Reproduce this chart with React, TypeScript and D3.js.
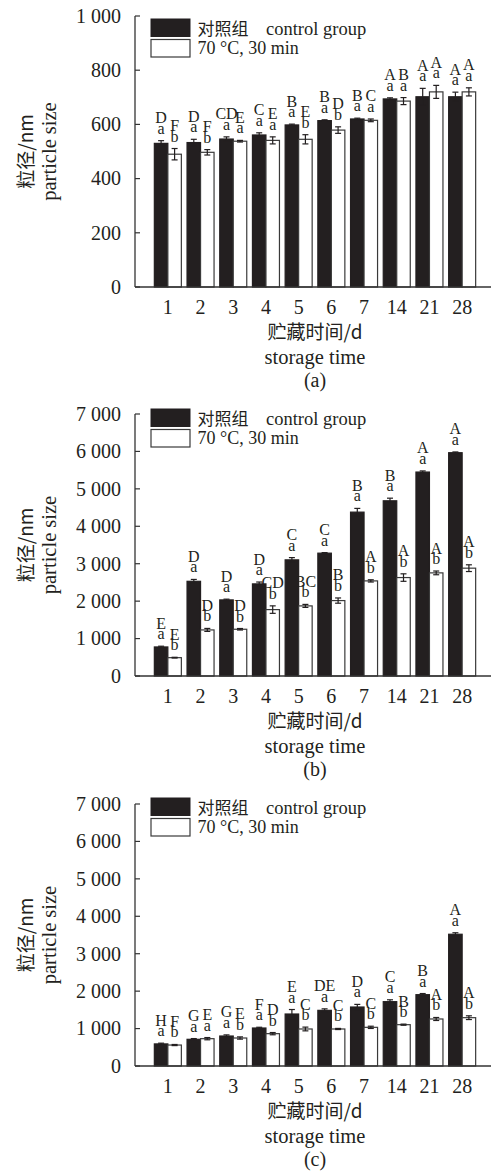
import React, { useEffect, useRef } from 'react';
import * as d3 from 'd3';

// storage days (x categories)
const days = ['1', '2', '3', '4', '5', '6', '7', '14', '21', '28'];
const seriesNames = ['对照组', '70 °C, 30 min'];

// panel (a)
const controlA = [530, 533, 546, 561, 598, 614, 620, 694, 702, 702];
const controlAErr = [10, 12, 8, 8, 3, 3, 3, 4, 31, 17];
const heatA = [490, 497, 538, 541, 545, 579, 615, 686, 720, 720];
const heatAErr = [21, 10, 3, 13, 17, 12, 5, 13, 24, 15];
const controlAUpper = ['D', 'D', 'CD', 'C', 'B', 'B', 'B', 'A', 'A', 'A'];
const controlALower = ['a', 'a', 'a', 'a', 'a', 'a', 'a', 'a', 'a', 'a'];
const heatAUpper = ['F', 'F', 'E', 'E', 'E', 'D', 'C', 'B', 'A', 'A'];
const heatALower = ['b', 'b', 'a', 'a', 'b', 'b', 'a', 'a', 'a', 'a'];
const ticksA = [0, 200, 400, 600, 800, 1000];

// panel (b)
const controlB = [776, 2530, 2033, 2461, 3103, 3282, 4378, 4681, 5449, 5966];
const controlBErr = [20, 50, 20, 50, 60, 15, 100, 70, 30, 20];
const heatB = [490, 1231, 1249, 1774, 1873, 2015, 2541, 2630, 2755, 2881];
const heatBErr = [10, 40, 20, 100, 40, 70, 30, 100, 50, 90];
const controlBUpper = ['E', 'D', 'D', 'D', 'C', 'C', 'B', 'B', 'A', 'A'];
const controlBLower = ['a', 'a', 'a', 'a', 'a', 'a', 'a', 'a', 'a', 'a'];
const heatBUpper = ['E', 'D', 'D', 'CD', 'BC', 'B', 'A', 'A', 'A', 'A'];
const heatBLower = ['b', 'b', 'b', 'b', 'b', 'b', 'b', 'b', 'b', 'b'];
const ticksB = [0, 1000, 2000, 3000, 4000, 5000, 6000, 7000];

// panel (c)
const controlC = [590, 713, 801, 1015, 1389, 1487, 1576, 1719, 1906, 3520];
const controlCErr = [20, 20, 30, 20, 120, 40, 70, 50, 30, 40];
const heatC = [560, 730, 748, 864, 989, 989, 1033, 1104, 1256, 1291];
const heatCErr = [15, 30, 30, 30, 50, 15, 30, 15, 40, 50];
const controlCUpper = ['H', 'G', 'G', 'F', 'E', 'DE', 'D', 'C', 'B', 'A'];
const controlCLower = ['a', 'a', 'a', 'a', 'a', 'a', 'a', 'a', 'a', 'a'];
const heatCUpper = ['F', 'E', 'E', 'D', 'C', 'C', 'C', 'B', 'A', 'A'];
const heatCLower = ['b', 'a', 'b', 'b', 'b', 'b', 'b', 'b', 'b', 'b'];
const ticksC = [0, 1000, 2000, 3000, 4000, 5000, 6000, 7000];

const SERIF = '"Liberation Serif", "Times New Roman", "Noto Sans CJK SC", serif';
const CJK = '"Noto Sans CJK SC", "Liberation Serif", serif';
const INK = '#231f20';

const fmt = d3.formatLocale({ decimal: '.', thousands: ' ', grouping: [3], currency: ['', ''] }).format(',d');

const panels = [
  {
    label: '(a)', top: 16, bottom: 287, legendTop: 19,
    ticks: ticksA,
    control: controlA, controlErr: controlAErr, heat: heatA, heatErr: heatAErr,
    cUp: controlAUpper, cLow: controlALower, hUp: heatAUpper, hLow: heatALower,
  },
  {
    label: '(b)', top: 414, bottom: 676, legendTop: 409,
    ticks: ticksB,
    control: controlB, controlErr: controlBErr, heat: heatB, heatErr: heatBErr,
    cUp: controlBUpper, cLow: controlBLower, hUp: heatBUpper, hLow: heatBLower,
  },
  {
    label: '(c)', top: 804, bottom: 1066, legendTop: 798,
    ticks: ticksC,
    control: controlC, controlErr: controlCErr, heat: heatC, heatErr: heatCErr,
    cUp: controlCUpper, cLow: controlCLower, hUp: heatCUpper, hLow: heatCLower,
  },
];

const drawPanel = (svg, p) => {
  const axisLeft = 135;
  const axisRight = 491;
  const g = svg.append('g');

  const y = d3.scaleLinear()
    .domain([0, p.ticks[p.ticks.length - 1]])
    .range([p.bottom, p.top]);

  const x = d3.scaleBand()
    .domain(days)
    .range([151.5, 478.5])
    .paddingInner(0.174)
    .paddingOuter(0.087);

  const xSub = d3.scaleBand()
    .domain(['control', 'heat'])
    .range([0, x.bandwidth()]);

  // bars
  const rows = days.map((d, i) => ({
    day: d,
    items: [
      { key: 'control', v: p.control[i], e: p.controlErr[i], up: p.cUp[i], low: p.cLow[i] },
      { key: 'heat', v: p.heat[i], e: p.heatErr[i], up: p.hUp[i], low: p.hLow[i] },
    ],
  }));

  const groups = g.selectAll('.grp')
    .data(rows)
    .enter()
    .append('g')
    .attr('transform', d => `translate(${x(d.day)},0)`);

  const bars = groups.selectAll('.bar')
    .data(d => d.items)
    .enter()
    .append('g');

  bars.append('rect')
    .attr('x', d => xSub(d.key))
    .attr('y', d => y(d.v))
    .attr('width', xSub.bandwidth())
    .attr('height', d => y(0) - y(d.v))
    .attr('fill', d => d.key === 'control' ? INK : '#fff')
    .attr('stroke', d => d.key === 'control' ? INK : '#3a3a3a')
    .attr('stroke-width', 1.2);

  // error bars
  const cap = 3;
  bars.each(function (d) {
    const cx = xSub(d.key) + xSub.bandwidth() / 2;
    const sel = d3.select(this);
    const hi = y(d.v + d.e);
    const lo = y(d.v - d.e);
    sel.append('line').attr('x1', cx).attr('x2', cx).attr('y1', hi).attr('y2', lo)
      .attr('stroke', INK).attr('stroke-width', 1.2);
    [hi, lo].forEach(yy => {
      sel.append('line').attr('x1', cx - cap).attr('x2', cx + cap).attr('y1', yy).attr('y2', yy)
        .attr('stroke', INK).attr('stroke-width', 1.2);
    });
    // significance letters
    sel.append('text')
      .attr('x', cx).attr('y', hi - 7)
      .attr('text-anchor', 'middle')
      .style('font-family', SERIF).style('font-size', '16px').attr('fill', INK)
      .text(d.low);
    sel.append('text')
      .attr('x', cx).attr('y', hi - 17.5)
      .attr('text-anchor', 'middle')
      .style('font-family', SERIF).style('font-size', '16px').attr('fill', INK)
      .text(d.up);
  });

  // axes
  g.append('line').attr('x1', axisLeft).attr('x2', axisLeft).attr('y1', p.top).attr('y2', p.bottom)
    .attr('stroke', '#333').attr('stroke-width', 1.3);
  g.append('line').attr('x1', axisLeft).attr('x2', axisRight).attr('y1', p.bottom).attr('y2', p.bottom)
    .attr('stroke', '#333').attr('stroke-width', 1.3);

  const yt = g.selectAll('.yt').data(p.ticks).enter().append('g')
    .attr('transform', d => `translate(0,${y(d)})`);
  yt.append('line').attr('x1', axisLeft).attr('x2', axisLeft + 5).attr('stroke', '#333').attr('stroke-width', 1.2);
  yt.append('text')
    .attr('x', 121).attr('dy', '0.34em')
    .attr('text-anchor', 'end')
    .style('font-family', SERIF).style('font-size', '20px').attr('fill', INK)
    .text(d => fmt(d));

  g.selectAll('.xt').data(days).enter().append('text')
    .attr('x', d => x(d) + x.bandwidth() / 2)
    .attr('y', p.bottom + 26.5)
    .attr('text-anchor', 'middle')
    .style('font-family', SERIF).style('font-size', '20px').attr('fill', INK)
    .text(d => d);

  const cx = 315;
  g.append('text').attr('x', cx).attr('y', p.bottom + 51.5).attr('text-anchor', 'middle')
    .style('font-family', CJK).style('font-size', '19px').attr('fill', INK)
    .text('贮藏时间/d');
  g.append('text').attr('x', cx).attr('y', p.bottom + 77).attr('text-anchor', 'middle')
    .style('font-family', SERIF).style('font-size', '20.5px').attr('fill', INK)
    .text('storage time');
  g.append('text').attr('x', cx).attr('y', p.bottom + 100).attr('text-anchor', 'middle')
    .style('font-family', SERIF).style('font-size', '20px').attr('fill', INK)
    .text(p.label);

  // y title
  const mid = (p.top + p.bottom) / 2;
  g.append('text').attr('transform', `translate(33,${mid}) rotate(-90)`).attr('text-anchor', 'middle')
    .style('font-family', CJK).style('font-size', '19px').attr('fill', INK)
    .text('粒径/nm');
  g.append('text').attr('transform', `translate(56,${mid}) rotate(-90)`).attr('text-anchor', 'middle')
    .style('font-family', SERIF).style('font-size', '20.5px').attr('fill', INK)
    .text('particle size');

  // legend
  const lg = g.append('g').attr('transform', `translate(151,${p.legendTop})`);
  lg.append('rect').attr('width', 39).attr('height', 17.5).attr('fill', INK).attr('stroke', INK);
  lg.append('rect').attr('y', 20.5).attr('width', 39).attr('height', 17.5).attr('fill', '#fff')
    .attr('stroke', '#3a3a3a').attr('stroke-width', 1.2);
  lg.append('text').attr('x', 46.5).attr('y', 15.5)
    .style('font-family', CJK).style('font-size', '17px').attr('fill', INK)
    .text(seriesNames[0]);
  lg.append('text').attr('x', 115).attr('y', 15.5)
    .style('font-family', SERIF).style('font-size', '18.5px').attr('fill', INK)
    .text('control group');
  lg.append('text').attr('x', 46.5).attr('y', 34.5)
    .style('font-family', SERIF).style('font-size', '18px').attr('fill', INK)
    .text(seriesNames[1]);
};

const App = () => {
  const ref = useRef(null);

  useEffect(() => {
    const svg = d3.select(ref.current);
    svg.selectAll('*').remove();
    panels.forEach(p => drawPanel(svg, p));
  }, []);

  return (
    <svg
      ref={ref}
      width={492}
      height={1174}
      style={{ position: 'absolute', left: 0, top: 0, background: '#fff' }}
    />
  );
};

export default App;
